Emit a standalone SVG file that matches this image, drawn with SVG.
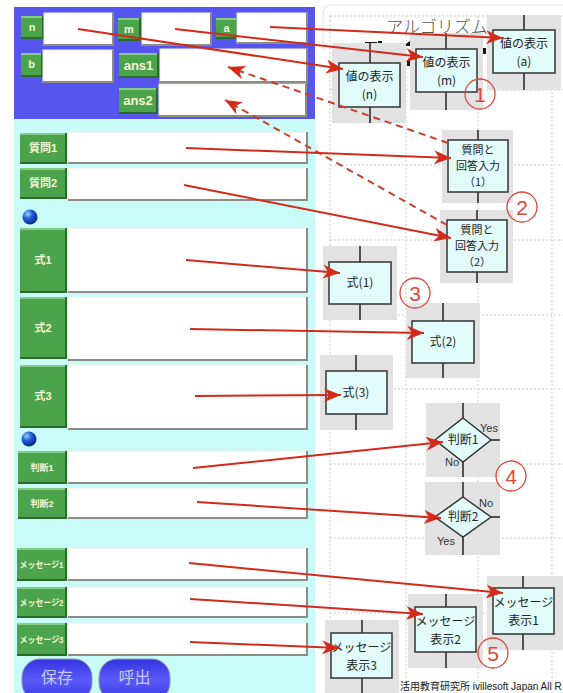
<svg xmlns="http://www.w3.org/2000/svg" width="563" height="693" viewBox="0 0 563 693">
<defs>
<style>
.btn{fill:#4ba34b}
.hl{stroke:#9ad89a;stroke-width:1.5;fill:none}
.sh{stroke:#2a6a2a;stroke-width:2;fill:none}
.bt{font-family:"Liberation Sans","Noto Sans CJK JP",sans-serif;font-weight:bold;fill:#f6f6d6;text-anchor:middle}
.inp{fill:#fff;stroke:#ecece4;stroke-width:1}
.ish{stroke:#8c8c84;stroke-width:2;fill:none}
.grid{stroke:#cccccc;stroke-width:1;stroke-dasharray:2 2;fill:none}
.gbg{fill:#e2e2e2}
.box{fill:#e2fcfc;stroke:#333;stroke-width:1.5}
.vl{stroke:#222;stroke-width:1.5}
.nt{font-family:"Noto Sans CJK JP",sans-serif;font-size:12px;fill:#222;text-anchor:middle}
.qt{font-family:"Noto Sans CJK JP",sans-serif;font-size:11px;fill:#222;text-anchor:middle}
.yn{font-family:"Liberation Sans",sans-serif;font-size:11px;fill:#333}
.num{fill:none;stroke:#d84a3a;stroke-width:1.3}
.numt{font-family:"Liberation Sans",sans-serif;font-size:21px;fill:#d84a3a;text-anchor:middle}
.con{stroke:#d42a1a;stroke-width:2;fill:none}
.dash{stroke:#c8402a;stroke-width:2;fill:none;stroke-dasharray:7 5}
</style>
<marker id="ah" markerUnits="userSpaceOnUse" markerWidth="18" markerHeight="14" refX="17" refY="7" orient="auto">
<path d="M0,0 L17,7 L0,14 L5,7 z" fill="#d42a1a"/>
</marker>
<radialGradient id="ball" cx="0.35" cy="0.3" r="0.7">
<stop offset="0" stop-color="#9ad0ff"/>
<stop offset="0.45" stop-color="#1f5fd8"/>
<stop offset="1" stop-color="#0a2a8a"/>
</radialGradient>
<linearGradient id="pill" x1="0" y1="0" x2="0" y2="1">
<stop offset="0" stop-color="#3434e0"/>
<stop offset="0.5" stop-color="#5a5afa"/>
<stop offset="1" stop-color="#3a3ae6"/>
</linearGradient>
</defs>
<rect width="563" height="693" fill="#fff"/>

<g id="panel">
<rect x="14" y="7" width="301" height="112" fill="#5656ee"/>
<rect x="14" y="119" width="301" height="574" fill="#c9fbf8"/>
</g>

<g id="field-n">
<rect class="btn" x="21" y="16" width="22" height="22"/><path class="hl" d="M21,17 H43"/><path class="sh" d="M21,38 H43 V16"/>
<text class="bt" x="32" y="31" font-size="11">n</text>
<rect class="inp" x="44" y="13" width="69" height="32"/><path class="ish" d="M44,45 H113 V13"/>
</g>
<g id="field-m">
<rect class="btn" x="118" y="18" width="22" height="22"/><path class="hl" d="M118,19 H140"/><path class="sh" d="M118,40 H140 V18"/>
<text class="bt" x="129" y="33" font-size="11">m</text>
<rect class="inp" x="142" y="13" width="69" height="32"/><path class="ish" d="M142,45 H211 V13"/>
</g>
<g id="field-a">
<rect class="btn" x="216" y="18" width="21" height="20"/><path class="hl" d="M216,19 H237"/><path class="sh" d="M216,38 H237 V18"/>
<text class="bt" x="226.5" y="32" font-size="11">a</text>
<rect class="inp" x="237" y="13" width="70" height="30"/><path class="ish" d="M237,43 H307 V13"/>
</g>
<g id="field-b">
<rect class="btn" x="21" y="53" width="21" height="23"/><path class="hl" d="M21,54 H42"/><path class="sh" d="M21,76 H42 V53"/>
<text class="bt" x="31.5" y="68" font-size="11">b</text>
<rect class="inp" x="43" y="50" width="70" height="32"/><path class="ish" d="M43,82 H113 V50"/>
</g>
<g id="field-ans1">
<rect class="btn" x="119" y="53" width="39" height="24"/><path class="hl" d="M119,54 H158"/><path class="sh" d="M119,77 H158 V53"/>
<text class="bt" x="138.5" y="70" font-size="13" font-weight="normal">ans1</text>
<rect class="inp" x="160" y="49" width="147" height="33"/><path class="ish" d="M160,82 H307 V49"/>
</g>
<g id="field-ans2">
<rect class="btn" x="119" y="88" width="38" height="25"/><path class="hl" d="M119,89 H157"/><path class="sh" d="M119,113 H157 V88"/>
<text class="bt" x="138" y="105" font-size="13" font-weight="normal">ans2</text>
<rect class="inp" x="159" y="84" width="147" height="32"/><path class="ish" d="M159,116 H306 V84"/>
</g>

<g id="field-q1">
<rect class="btn" x="20" y="133" width="46" height="30"/><path class="hl" d="M20,134 H66"/><path class="sh" d="M20,163 H66 V133"/>
<text class="bt" x="43" y="152" font-size="11">質問1</text>
<rect class="inp" x="68" y="132" width="239" height="31"/><path class="ish" d="M68,163 H307 V132"/>
</g>
<g id="field-q2">
<rect class="btn" x="20" y="168" width="46" height="30"/><path class="hl" d="M20,169 H66"/><path class="sh" d="M20,198 H66 V168"/>
<text class="bt" x="43" y="187" font-size="11">質問2</text>
<rect class="inp" x="68" y="168" width="239" height="32"/><path class="ish" d="M68,200 H307 V168"/>
</g>
<circle id="ball1" cx="30" cy="217" r="7.5" fill="url(#ball)"/>
<g id="field-f1">
<rect class="btn" x="20" y="228" width="46" height="64"/><path class="hl" d="M20,229 H66"/><path class="sh" d="M20,292 H66 V228"/>
<text class="bt" x="43" y="264" font-size="11">式1</text>
<rect class="inp" x="68" y="228" width="239" height="64"/><path class="ish" d="M68,292 H307 V228"/>
</g>
<g id="field-f2">
<rect class="btn" x="20" y="297" width="46" height="61"/><path class="hl" d="M20,298 H66"/><path class="sh" d="M20,358 H66 V297"/>
<text class="bt" x="43" y="332" font-size="11">式2</text>
<rect class="inp" x="68" y="297" width="239" height="63"/><path class="ish" d="M68,360 H307 V297"/>
</g>
<g id="field-f3">
<rect class="btn" x="20" y="365" width="46" height="62"/><path class="hl" d="M20,366 H66"/><path class="sh" d="M20,427 H66 V365"/>
<text class="bt" x="43" y="400" font-size="11">式3</text>
<rect class="inp" x="68" y="365" width="239" height="64"/><path class="ish" d="M68,429 H307 V365"/>
</g>
<circle id="ball2" cx="29" cy="439" r="7.5" fill="url(#ball)"/>
<g id="field-j1">
<rect class="btn" x="18" y="451" width="48" height="32"/><path class="hl" d="M18,452 H66"/><path class="sh" d="M18,483 H66 V451"/>
<text class="bt" x="42" y="471" font-size="9">判断1</text>
<rect class="inp" x="68" y="451" width="239" height="32"/><path class="ish" d="M68,483 H307 V451"/>
</g>
<g id="field-j2">
<rect class="btn" x="18" y="488" width="48" height="30"/><path class="hl" d="M18,489 H66"/><path class="sh" d="M18,518 H66 V488"/>
<text class="bt" x="42" y="507" font-size="9">判断2</text>
<rect class="inp" x="68" y="488" width="239" height="30"/><path class="ish" d="M68,518 H307 V488"/>
</g>
<g id="field-m1">
<rect class="btn" x="17" y="548" width="49" height="32"/><path class="hl" d="M17,549 H66"/><path class="sh" d="M17,580 H66 V548"/>
<text class="bt" x="41.5" y="568" font-size="9" textLength="44" lengthAdjust="spacingAndGlyphs">メッセージ1</text>
<rect class="inp" x="68" y="548" width="239" height="32"/><path class="ish" d="M68,580 H307 V548"/>
</g>
<g id="field-m2">
<rect class="btn" x="17" y="587" width="49" height="30"/><path class="hl" d="M17,588 H66"/><path class="sh" d="M17,617 H66 V587"/>
<text class="bt" x="41.5" y="606" font-size="9" textLength="44" lengthAdjust="spacingAndGlyphs">メッセージ2</text>
<rect class="inp" x="68" y="587" width="239" height="30"/><path class="ish" d="M68,617 H307 V587"/>
</g>
<g id="field-m3">
<rect class="btn" x="17" y="623" width="49" height="32"/><path class="hl" d="M17,624 H66"/><path class="sh" d="M17,655 H66 V623"/>
<text class="bt" x="41.5" y="643" font-size="9" textLength="44" lengthAdjust="spacingAndGlyphs">メッセージ3</text>
<rect class="inp" x="68" y="623" width="239" height="32"/><path class="ish" d="M68,655 H307 V623"/>
</g>
<g id="btn-save">
<rect x="22" y="659" width="70" height="42" rx="18" fill="url(#pill)" stroke="#9a9ab0" stroke-width="1"/>
<text x="57" y="683" font-family="Noto Sans CJK JP,sans-serif" font-size="16" fill="#c8c8f0" text-anchor="middle">保存</text>
</g>
<g id="btn-load">
<rect x="99" y="659" width="71" height="42" rx="18" fill="url(#pill)" stroke="#9a9ab0" stroke-width="1"/>
<text x="134.5" y="683" font-family="Noto Sans CJK JP,sans-serif" font-size="16" fill="#c8c8f0" text-anchor="middle">呼出</text>
</g>

<g id="canvas">
<path d="M323,50 V14 Q323,5 332,5 H563" fill="none" stroke="#e4e4e4" stroke-width="1.2"/>
<path class="grid" d="M330,16 V693 M406,16 V693 M478,16 V693 M552,16 V693"/>
<path class="grid" d="M330,16 H563 M330,90 H563 M330,165 H563 M330,240 H563 M330,315 H563 M330,389 H563 M330,464 H563 M330,538 H563 M330,613 H563 M330,688 H563"/>
<text x="437" y="33" font-family="Noto Sans CJK JP,sans-serif" font-size="17" fill="#555" text-anchor="middle" font-weight="300">アルゴリズム</text>
<rect x="365" y="42" width="12" height="4" fill="#111"/>
<rect x="378" y="41" width="4" height="5" fill="#111"/>
<path d="M403,46 L410,41 V46 z" fill="#111"/>
<rect x="483" y="48" width="3" height="6" fill="#111"/>
<rect x="407" y="60" width="3" height="6" fill="#111"/>
</g>

<g id="node-n">
<rect class="gbg" x="332" y="43" width="74" height="80"/>
<path class="vl" d="M370,43 V63 M370,107 V123"/>
<rect class="box" x="339" y="63" width="61" height="44"/>
<text class="nt" x="369.5" y="81">値の表示</text><text class="nt" x="369.5" y="99">(n)</text>
</g>
<g id="node-m">
<rect class="gbg" x="410" y="33" width="73" height="77"/>
<path class="vl" d="M446,33 V49 M446,92 V110"/>
<rect class="box" x="416" y="49" width="61" height="43"/>
<text class="nt" x="446.5" y="67">値の表示</text><text class="nt" x="446.5" y="85">(m)</text>
</g>
<g id="node-a">
<rect class="gbg" x="487" y="15" width="74" height="75"/>
<path class="vl" d="M524,15 V30 M524,73 V90"/>
<rect class="box" x="493" y="30" width="62" height="43"/>
<text class="nt" x="524" y="48">値の表示</text><text class="nt" x="524" y="66">(a)</text>
</g>
<g id="node-q1">
<rect class="gbg" x="442" y="130" width="71" height="73"/>
<path class="vl" d="M478,130 V140 M478,192 V203"/>
<rect class="box" x="448" y="140" width="60" height="52"/>
<text class="qt" x="478" y="154">質問と</text><text class="qt" x="478" y="170">回答入力</text><text class="qt" x="478" y="186">（1）</text>
</g>
<g id="node-q2">
<rect class="gbg" x="440" y="210" width="73" height="73"/>
<path class="vl" d="M477,210 V220 M477,272 V283"/>
<rect class="box" x="447" y="220" width="60" height="52"/>
<text class="qt" x="477" y="234">質問と</text><text class="qt" x="477" y="250">回答入力</text><text class="qt" x="477" y="266">（2）</text>
</g>
<g id="node-f1">
<rect class="gbg" x="323" y="246" width="74" height="74"/>
<path class="vl" d="M360,246 V262 M360,304 V320"/>
<rect class="box" x="329" y="262" width="62" height="42"/>
<text class="nt" x="360" y="287">式(1)</text>
</g>
<g id="node-f2">
<rect class="gbg" x="406" y="303" width="74" height="75"/>
<path class="vl" d="M443,303 V321 M443,363 V378"/>
<rect class="box" x="412" y="321" width="62" height="42"/>
<text class="nt" x="443" y="346">式(2)</text>
</g>
<g id="node-f3">
<rect class="gbg" x="320" y="355" width="73" height="75"/>
<path class="vl" d="M356,355 V371 M356,414 V430"/>
<rect class="box" x="326" y="371" width="61" height="43"/>
<text class="nt" x="356" y="397">式(3)</text>
</g>
<g id="node-j1">
<rect class="gbg" x="426" y="403" width="74" height="74"/>
<path class="vl" d="M463,403 V418 M463,462 V477 M491,440 H500"/>
<path class="box" d="M463,418 L491,440 L463,462 L435,440 z"/>
<text class="nt" x="463" y="444">判断1</text>
<text class="yn" x="480" y="432">Yes</text>
<text class="yn" x="445" y="466">No</text>
</g>
<g id="node-j2">
<rect class="gbg" x="425" y="482" width="75" height="73"/>
<path class="vl" d="M463,482 V497 M463,537 V555 M491,517 H500"/>
<path class="box" d="M463,497 L491,517 L463,537 L435,517 z"/>
<text class="nt" x="463" y="521">判断2</text>
<text class="yn" x="479" y="507">No</text>
<text class="yn" x="437" y="545">Yes</text>
</g>
<g id="node-msg1">
<rect class="gbg" x="487" y="576" width="76" height="74"/>
<path class="vl" d="M523,576 V588 M523,634 V650"/>
<rect class="box" x="493" y="588" width="61" height="46"/>
<text class="nt" x="523.5" y="607">メッセージ</text><text class="nt" x="523.5" y="625">表示1</text>
</g>
<g id="node-msg2">
<rect class="gbg" x="408" y="594" width="75" height="74"/>
<path class="vl" d="M446,594 V607 M446,652 V668"/>
<rect class="box" x="415" y="607" width="61" height="45"/>
<text class="nt" x="445.5" y="626">メッセージ</text><text class="nt" x="445.5" y="644">表示2</text>
</g>
<g id="node-msg3">
<rect class="gbg" x="325" y="620" width="74" height="73"/>
<path class="vl" d="M362,620 V633 M362,678 V693"/>
<rect class="box" x="331" y="633" width="61" height="45"/>
<text class="nt" x="361.5" y="652">メッセージ</text><text class="nt" x="361.5" y="670">表示3</text>
</g>

<g id="labels">
<circle class="num" cx="480" cy="94" r="15"/><text class="numt" x="480" y="102">1</text>
<circle class="num" cx="522" cy="207" r="15"/><text class="numt" x="522" y="215">2</text>
<circle class="num" cx="415" cy="293" r="15"/><text class="numt" x="415" y="301">3</text>
<circle class="num" cx="511" cy="476" r="15"/><text class="numt" x="511" y="484">4</text>
<circle class="num" cx="493" cy="653" r="15"/><text class="numt" x="493" y="661">5</text>
</g>

<text id="footer" x="400" y="690" font-family="Liberation Sans,Noto Sans CJK JP,sans-serif" font-size="10" fill="#222">活用教育研究所 ivillesoft Japan All R</text>

<g id="connectors">
<line class="con" x1="78" y1="29" x2="343" y2="69" marker-end="url(#ah)"/>
<line class="con" x1="175" y1="29" x2="423" y2="57" marker-end="url(#ah)"/>
<line class="con" x1="270" y1="27" x2="503" y2="38" marker-end="url(#ah)"/>
<line class="dash" x1="448" y1="143" x2="228" y2="67" marker-end="url(#ah)"/>
<line class="dash" x1="447" y1="225" x2="225" y2="100" marker-end="url(#ah)"/>
<line class="con" x1="186" y1="148" x2="451" y2="158" marker-end="url(#ah)"/>
<line class="con" x1="184" y1="185" x2="451" y2="238" marker-end="url(#ah)"/>
<line class="con" x1="186" y1="260" x2="340" y2="273" marker-end="url(#ah)"/>
<line class="con" x1="190" y1="329" x2="424" y2="333" marker-end="url(#ah)"/>
<line class="con" x1="195" y1="396" x2="341" y2="395" marker-end="url(#ah)"/>
<line class="con" x1="193" y1="468" x2="443" y2="442" marker-end="url(#ah)"/>
<line class="con" x1="197" y1="502" x2="441" y2="518" marker-end="url(#ah)"/>
<line class="con" x1="189" y1="563" x2="503" y2="593" marker-end="url(#ah)"/>
<line class="con" x1="190" y1="599" x2="423" y2="614" marker-end="url(#ah)"/>
<line class="con" x1="190" y1="642" x2="339" y2="648" marker-end="url(#ah)"/>
</g>
</svg>
